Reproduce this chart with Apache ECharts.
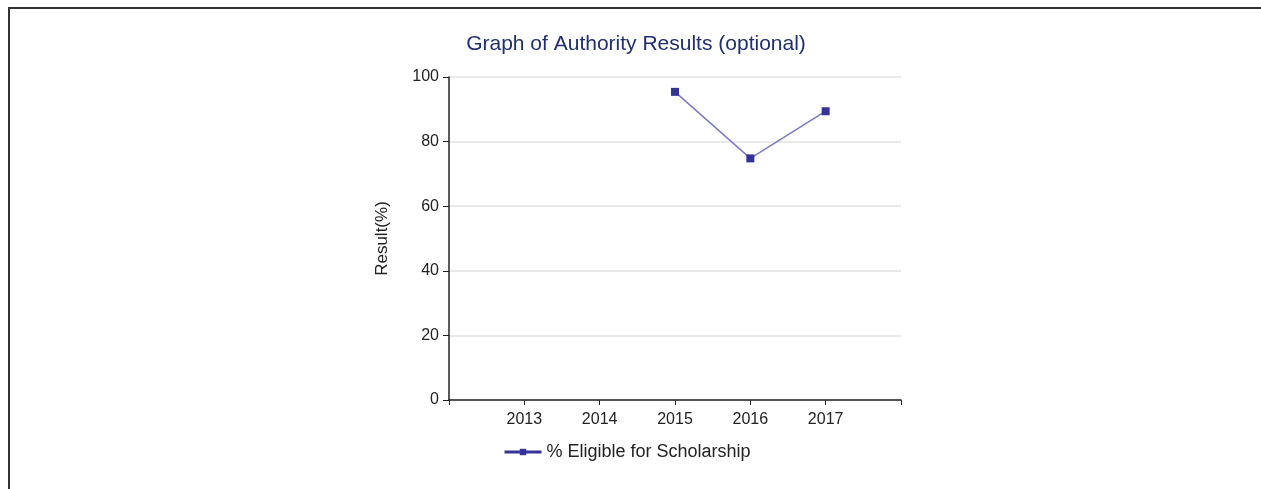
<!DOCTYPE html>
<html>
<head>
<meta charset="utf-8">
<script src="https://cdn.jsdelivr.net/npm/echarts@6/dist/echarts.min.js"></script>
<style>
html,body{margin:0;padding:0;background:#fff;}
#frame{position:absolute;left:8px;top:7px;width:1253px;height:482px;border-top:2px solid #333;border-left:2px solid #333;box-sizing:border-box;}
#chart{position:absolute;left:0;top:0;width:1261px;height:489px;}
</style>
</head>
<body>
<div id="frame"></div>
<div id="chart"></div>
<script>
const years = [2015, 2016, 2017];
const eligible = [95.4, 74.8, 89.4];
const yTicks = [0, 20, 40, 60, 80, 100];
const xLabels = [2013, 2014, 2015, 2016, 2017];
const seriesName = '% Eligible for Scholarship';
const titleText = 'Graph of Authority Results (optional)';
const yName = 'Result(%)';

const font = 'Liberation Sans, Arial, sans-serif';
const chart = echarts.init(document.getElementById('chart'), null, {renderer: 'canvas'});
chart.setOption({
  animation: false,
  backgroundColor: 'transparent',
  title: {
    text: titleText,
    left: 631, textAlign: 'center', top: 29,
    textStyle: {fontFamily: font, fontSize: 21, fontWeight: 'normal', color: '#1f2f70'}
  },
  legend: {
    data: [seriesName],
    left: 498, top: 438,
    itemWidth: 37, itemHeight: 8, itemGap: 6,
    textStyle: {fontFamily: font, fontSize: 18, color: '#222'},
    lineStyle: {width: 3, color: '#33339a'},
    itemStyle: {color: '#33339a'}
  },
  grid: {left: 449, right: 360, top: 77, bottom: 89, containLabel: false},
  xAxis: {
    type: 'value', min: 2012, max: 2018, interval: 1,
    axisLine: {show: true, onZero: false, lineStyle: {color: '#222', width: 1.5}},
    axisTick: {show: true, length: 5, lineStyle: {color: '#222'}},
    splitLine: {show: false},
    axisLabel: {
      fontFamily: font, fontSize: 16, color: '#222', margin: 12,
      formatter: v => xLabels.indexOf(v) >= 0 ? String(v) : ''
    }
  },
  yAxis: {
    type: 'value', min: yTicks[0], max: yTicks[yTicks.length - 1], interval: 20,
    name: yName, nameLocation: 'middle', nameGap: 58, nameRotate: 90,
    nameTextStyle: {fontFamily: font, fontSize: 17, color: '#222'},
    axisLine: {show: true, lineStyle: {color: '#222', width: 1.5}},
    axisTick: {show: true, length: 6, lineStyle: {color: '#222'}},
    splitLine: {show: true, lineStyle: {color: '#e2e2e2', width: 1.5}},
    axisLabel: {fontFamily: font, fontSize: 16, color: '#222', margin: 10}
  },
  series: [{
    name: seriesName,
    type: 'line',
    data: years.map((y, i) => [y, eligible[i]]),
    symbol: 'rect', symbolSize: 8,
    itemStyle: {color: '#33339a'},
    lineStyle: {color: '#7b7bc8', width: 1.5}
  }]
});
</script>
</body>
</html>
